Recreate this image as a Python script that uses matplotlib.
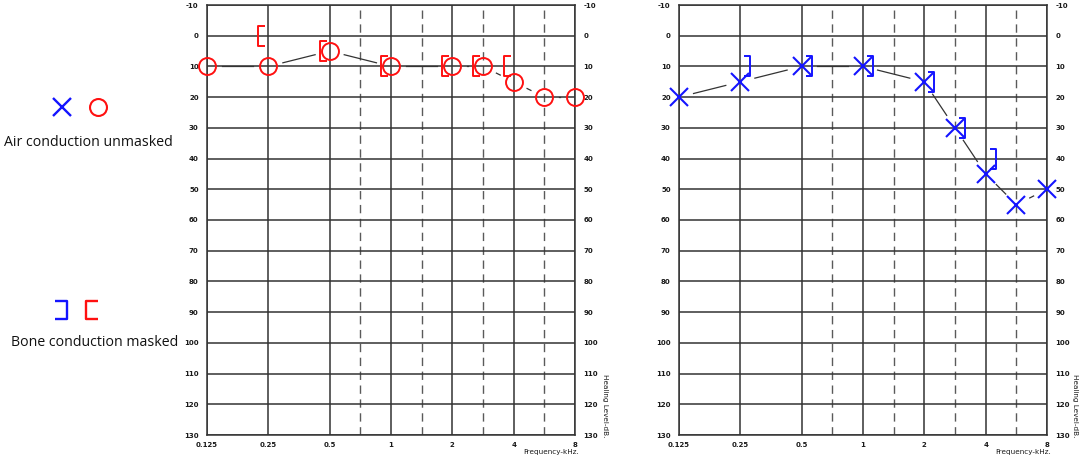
import numpy as np
import matplotlib
matplotlib.use("Agg")
import matplotlib.pyplot as plt
from matplotlib.path import Path

plt.rcParams["axes.unicode_minus"] = False

# ---------------- data ----------------
freq_ticks = [0.125, 0.25, 0.5, 1, 2, 4, 8]
freq_tick_labels = ["0.125", "0.25", "0.5", "1", "2", "4", "8"]
half_octaves = [0.75, 1.5, 3, 6]
db_ticks = list(range(-10, 131, 10))

freqs_air = [0.125, 0.25, 0.5, 1, 2, 3, 4, 6, 8]
right_air_db = [10, 10, 5, 10, 10, 10, 15, 20, 20]   # red circles
left_air_db = [20, 15, 10, 10, 15, 30, 45, 55, 50]   # blue crosses
freqs_bone = [0.25, 0.5, 1, 2, 3, 4]
right_bone_db = [0, 5, 10, 10, 10, 10]               # red [
left_bone_db = [10, 10, 10, 15, 30, 40]              # blue ]

legend_air = "Air conduction unmasked"
legend_bone = "Bone conduction masked"
xlabel_txt = "Frequency-kHz."
ylabel_txt = "Healing Level-dB."

# ---------------- audiogram frequency scale ----------------
aud_f = np.array([0.0625, 0.125, 0.25, 0.5, 0.75, 1, 1.5, 2, 3, 4, 6, 8, 16])
aud_p = np.array([-1, 0, 1, 2, 2.5, 3, 3.5, 4, 4.5, 5, 5.5, 6, 7])


def fwd(f):
    return np.interp(f, aud_f, aud_p)


def inv(p):
    return np.interp(p, aud_p, aud_f)


def bracket(side, inner=3.5, outer=10, half=10):
    s = 1 if side == "right" else -1
    verts = [(s * inner, half), (s * outer, half), (s * outer, -half), (s * inner, -half)]
    return Path(verts, [Path.MOVETO, Path.LINETO, Path.LINETO, Path.LINETO])


RED = "#ff1010"
BLUE = "#1414ff"
GRID = "#333333"
TXT = "#1a1a1a"

W, H = 1084, 462
fig = plt.figure(figsize=(W / 100, H / 100), dpi=100)

# overlay axes in pixel coordinates for the legend
lax = fig.add_axes([0, 0, 1, 1])
lax.set_xlim(0, W)
lax.set_ylim(H, 0)
lax.axis("off")


def setup_audiogram(rect):
    ax = fig.add_axes(rect)
    ax.set_xscale("function", functions=(fwd, inv))
    ax.set_xlim(0.125, 8)
    ax.set_ylim(130, -10)
    ax.set_xticks(freq_ticks)
    ax.set_xticklabels(freq_tick_labels)
    ax.set_xticks(half_octaves, minor=True)
    ax.set_yticks(db_ticks)
    ax.tick_params(axis="both", which="both", length=0, labelsize=5.0,
                   labelcolor=TXT)
    ax.tick_params(axis="y", labelright=True, pad=6)
    ax.tick_params(axis="x", pad=5)
    for lab in ax.get_xticklabels() + ax.get_yticklabels():
        lab.set_fontweight("bold")
    ax.set_axisbelow(True)
    ax.grid(True, which="major", color=GRID, lw=1.1)
    ax.grid(True, which="minor", axis="x", color="#5a5a5a", lw=1.0,
            linestyle=(0, (6, 4)))
    for sp in ax.spines.values():
        sp.set_color(GRID)
        sp.set_linewidth(1.1)
    ax.text(1.011, -0.04, xlabel_txt, transform=ax.transAxes, ha="right",
            va="center", fontsize=5.2, color=TXT)
    return ax


def gapped_line(ax, xs, ys, gap_px=15):
    pts = ax.transData.transform(np.column_stack([xs, ys]))
    invt = ax.transData.inverted()
    for p0, p1 in zip(pts[:-1], pts[1:]):
        d = p1 - p0
        L = np.hypot(*d)
        if L <= 2 * gap_px:
            continue
        u = d / L
        a, b = invt.transform([p0 + u * gap_px, p1 - u * gap_px])
        ax.plot([a[0], b[0]], [a[1], b[1]], color="#333333", lw=0.9, zorder=3)


ax_w = 368 / W
ax_h = 430 / H
ax_b = (H - 435) / H
axL = setup_audiogram([207 / W, ax_b, ax_w, ax_h])
axR = setup_audiogram([679 / W, ax_b, ax_w, ax_h])

for ax in (axL, axR):
    for lab in ax.yaxis.get_majorticklabels():
        lab.set_fontweight("bold")
    ax.text(1.0815 if ax is axL else 1.076, -0.005, ylabel_txt,
            transform=ax.transAxes, rotation=270, ha="center", va="bottom",
            fontsize=5.2, color=TXT)

# left chart: red (circles + [)
gapped_line(axL, freqs_air, right_air_db)
axL.plot(freqs_air, right_air_db, linestyle="none", marker="o", ms=12.2,
         mfc="none", mec=RED, mew=1.4, clip_on=False, zorder=4)
axL.plot(freqs_bone, right_bone_db, linestyle="none", marker=bracket("left"),
         ms=14.4, mfc="none", mec=RED, mew=1.4, clip_on=False, zorder=4)

# right chart: blue (crosses + ])
gapped_line(axR, freqs_air, left_air_db)
axR.plot(freqs_air, left_air_db, linestyle="none", marker="x", ms=13,
         mec=BLUE, mew=1.5, clip_on=False, zorder=4)
axR.plot(freqs_bone, left_bone_db, linestyle="none", marker=bracket("right"),
         ms=14.4, mfc="none", mec=BLUE, mew=1.4, clip_on=False, zorder=4)

# legend (pixel layout)
lax.plot([62], [107], marker="x", ms=13.5, mec=BLUE, mew=1.7, linestyle="none")
lax.plot([98], [107], marker="o", ms=12.2, mfc="none", mec=RED, mew=1.5,
         linestyle="none")
lax.text(88, 143, legend_air, ha="center", va="center", fontsize=10.2,
         family=["Open Sans", "DejaVu Sans"], color="#111111")
lax.plot([61], [310], marker=bracket("right", inner=-10, outer=10, half=17),
         ms=13.5, mfc="none", mec=BLUE, mew=1.7, linestyle="none")
lax.plot([92], [310], marker=bracket("left", inner=-10, outer=10, half=17),
         ms=13.5, mfc="none", mec=RED, mew=1.7, linestyle="none")
lax.text(95, 343, legend_bone, ha="center", va="center", fontsize=10.2,
         family=["Open Sans", "DejaVu Sans"], color="#111111")

fig.savefig("out.png", dpi=100, facecolor="white")
